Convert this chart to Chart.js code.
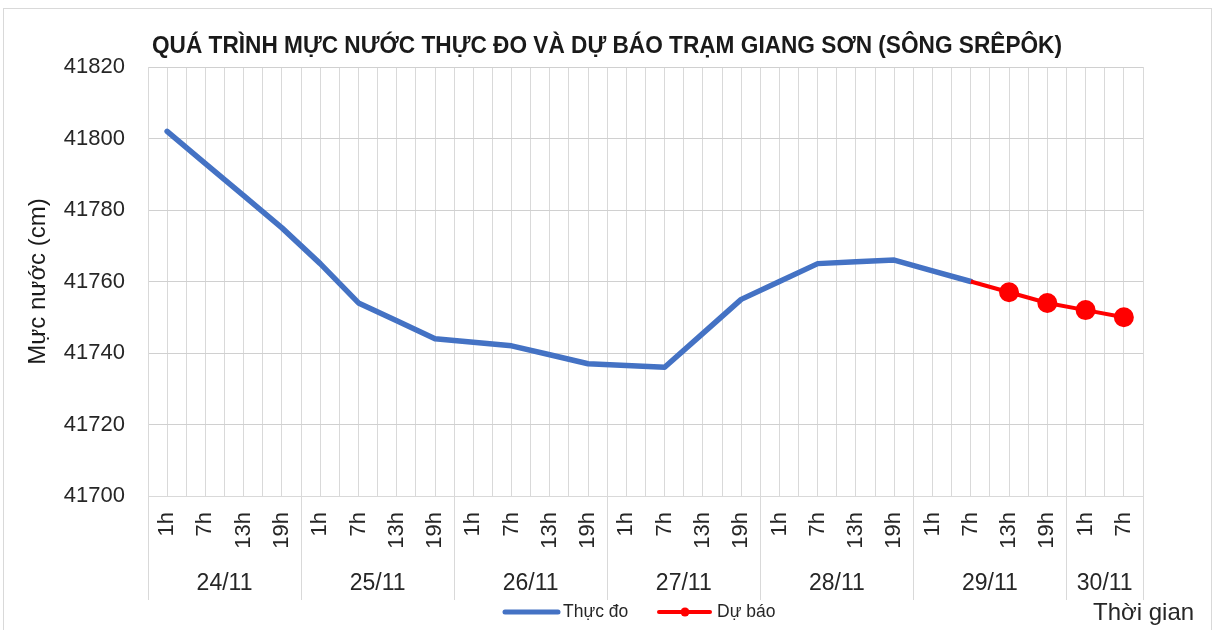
<!DOCTYPE html>
<html>
<head>
<meta charset="utf-8">
<script src="https://cdn.jsdelivr.net/npm/chart.js@4.4.1/dist/chart.umd.min.js"></script>
<style>
  html, body { margin: 0; padding: 0; background: #fff; }
  #wrap { width: 1219px; height: 630px; }
</style>
</head>
<body>
<div id="wrap"><canvas id="mucNuocChart" width="1219" height="630"></canvas></div>
<script>
// tieu de va nhan
var chartTitle = 'QUÁ TRÌNH MỰC NƯỚC THỰC ĐO VÀ DỰ BÁO TRẠM GIANG SƠN (SÔNG SRÊPÔK)';
var yTitle = 'Mực nước (cm)';
var xTitle = 'Thời gian';

// ngay va so moc gio trong moi ngay
var dayLabels = ['24/11', '25/11', '26/11', '27/11', '28/11', '29/11', '30/11'];
var dayCounts = [4, 4, 4, 4, 4, 4, 2];
var hourLabels = [
    '1h', '7h', '13h', '19h',
    '1h', '7h', '13h', '19h',
    '1h', '7h', '13h', '19h',
    '1h', '7h', '13h', '19h',
    '1h', '7h', '13h', '19h',
    '1h', '7h', '13h', '19h',
    '1h', '7h'
];

// so lieu (cm)
var thucDo = [
    41802, 41793, 41784, 41775,
    41765, 41754, 41749, 41744,
    41743, 41742, 41739.5, 41737,
    41736.5, 41736, 41745.5, 41755,
    41760, 41765, 41765.5, 41766,
    41763, 41760, null, null,
    null, null
];
var duBao = [
    null, null, null, null,
    null, null, null, null,
    null, null, null, null,
    null, null, null, null,
    null, null, null, null,
    null, 41760, 41757, 41754,
    41752, 41750
];

// truc tung
var yMin = 41700;
var yMax = 41820;
var yStep = 20;

var textColor = '#262626';
var gridColor = '#d9d9d9';
var fontFamily = '"Liberation Sans", Arial, sans-serif';

// plugin ve tieu de, nhom ngay, chu giai
var decorPlugin = {
    id: 'decor',
    beforeDraw: function (chart) {
        var ctx = chart.ctx;
        ctx.save();
        ctx.fillStyle = '#fff';
        ctx.fillRect(0, 0, chart.width, chart.height);
        ctx.strokeStyle = gridColor;
        ctx.lineWidth = 1;
        ctx.strokeRect(3.5, 8.5, 1208, 640);
        ctx.restore();
    },
    afterDraw: function (chart) {
        var ctx = chart.ctx;
        var area = chart.chartArea;
        var xs = chart.scales.x;
        ctx.save();

        // tieu de
        ctx.fillStyle = '#1a1a1a';
        ctx.font = 'bold 23px ' + fontFamily;
        ctx.textAlign = 'center';
        ctx.textBaseline = 'middle';
        ctx.fillText(chartTitle, 607, 47, 910);

        // duong phan cach va nhan ngay
        var half = (xs.getPixelForValue(1) - xs.getPixelForValue(0)) / 2;
        var start = 0;
        ctx.strokeStyle = gridColor;
        ctx.lineWidth = 1;
        ctx.font = '23px ' + fontFamily;
        ctx.fillStyle = textColor;
        for (var d = 0; d < dayLabels.length; d++) {
            var x0 = xs.getPixelForValue(start) - half;
            var x1 = xs.getPixelForValue(start + dayCounts[d] - 1) + half;
            ctx.beginPath();
            ctx.moveTo(Math.round(x0) + 0.5, area.bottom);
            ctx.lineTo(Math.round(x0) + 0.5, 600);
            ctx.stroke();
            if (d === dayLabels.length - 1) {
                ctx.beginPath();
                ctx.moveTo(Math.round(x1) + 0.5, area.bottom);
                ctx.lineTo(Math.round(x1) + 0.5, 600);
                ctx.stroke();
            }
            ctx.fillText(dayLabels[d], (x0 + x1) / 2, 584);
            start += dayCounts[d];
        }

        // chu giai
        var ly = 612;
        var ds0 = chart.data.datasets[1];
        var ds1 = chart.data.datasets[0];
        ctx.lineCap = 'round';
        ctx.strokeStyle = ds0.borderColor;
        ctx.lineWidth = 5;
        ctx.beginPath();
        ctx.moveTo(505, ly);
        ctx.lineTo(558, ly);
        ctx.stroke();
        ctx.font = '17.5px ' + fontFamily;
        ctx.textAlign = 'left';
        ctx.fillStyle = textColor;
        ctx.fillText(ds0.label, 563, ly);

        ctx.strokeStyle = ds1.borderColor;
        ctx.lineWidth = 4;
        ctx.beginPath();
        ctx.moveTo(659, ly);
        ctx.lineTo(710, ly);
        ctx.stroke();
        ctx.fillStyle = ds1.borderColor;
        ctx.beginPath();
        ctx.arc(685, ly, 4.5, 0, Math.PI * 2);
        ctx.fill();
        ctx.fillStyle = textColor;
        ctx.fillText(ds1.label, 717, ly);

        // ten truc hoanh
        ctx.font = '24px ' + fontFamily;
        ctx.fillText(xTitle, 1093, 613);

        ctx.restore();
    }
};

var ctx = document.getElementById('mucNuocChart').getContext('2d');
var chart = new Chart(ctx, {
    type: 'line',
    data: {
        labels: hourLabels,
        datasets: [
            {
                label: 'Dự báo',
                data: duBao,
                borderColor: '#ff0000',
                backgroundColor: '#ff0000',
                borderWidth: 4,
                pointRadius: duBao.map(function (v, i) { return (v !== null && thucDo[i] === null) ? 9 : 0; }),
                pointBorderWidth: 2,
                pointHoverRadius: 0,
                tension: 0,
                order: 0
            },
            {
                label: 'Thực đo',
                data: thucDo,
                borderColor: '#4472c4',
                backgroundColor: '#4472c4',
                borderWidth: 5.5,
                borderCapStyle: 'round',
                borderJoinStyle: 'round',
                pointRadius: 0,
                tension: 0,
                order: 1
            }
        ]
    },
    options: {
        responsive: false,
        animation: false,
        layout: { padding: { left: 8, top: 67, right: 76, bottom: 0 } },
        plugins: {
            legend: { display: false },
            tooltip: { enabled: false }
        },
        scales: {
            x: {
                type: 'category',
                offset: true,
                grid: { offset: true, color: gridColor, drawTicks: false },
                border: { color: gridColor },
                ticks: {
                    autoSkip: false,
                    minRotation: 90,
                    maxRotation: 90,
                    padding: 16,
                    color: textColor,
                    font: { family: fontFamily, size: 22 }
                },
                afterFit: function (scale) { scale.height = 134; }
            },
            x2: {
                type: 'category',
                position: 'top',
                offset: true,
                grid: { offset: false, color: gridColor, drawTicks: false },
                border: { display: false },
                ticks: { display: false },
                afterFit: function (scale) { scale.height = 0; }
            },
            y: {
                min: yMin,
                max: yMax,
                grid: { color: '#d0d0d0', drawTicks: false },
                border: { color: gridColor },
                ticks: {
                    stepSize: yStep,
                    padding: 23,
                    color: textColor,
                    font: { family: fontFamily, size: 22 },
                    callback: function (v) { return String(v); }
                },
                title: {
                    display: true,
                    text: yTitle,
                    color: '#1a1a1a',
                    padding: { top: 16, bottom: 0 },
                    font: { family: fontFamily, size: 24 }
                },
                afterFit: function (scale) { scale.width = 140; }
            }
        }
    },
    plugins: [decorPlugin]
});
</script>
</body>
</html>
